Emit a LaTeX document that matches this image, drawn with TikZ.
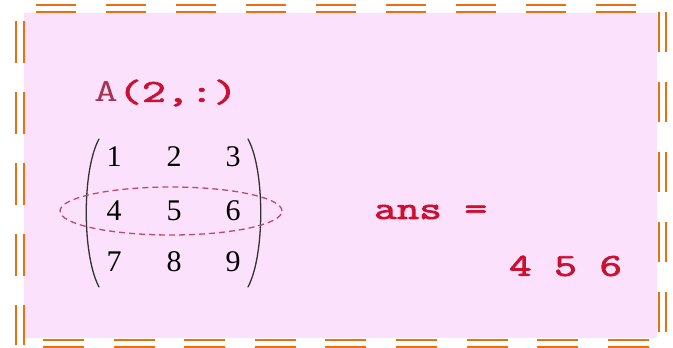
\documentclass[tikz,border=0pt]{standalone}
\usepackage{fontspec}
\usepackage{graphicx}
\usetikzlibrary{shapes.geometric}
\setmainfont{Liberation Serif}
\newfontfamily\monobold[FakeBold=2.2]{Latin Modern Mono}
\newfontfamily\monoreg{Latin Modern Mono}
\definecolor{bgpink}{HTML}{FCE1FC}
\definecolor{brd}{HTML}{E8700F}
\definecolor{codered}{HTML}{CC1030}
\definecolor{avar}{HTML}{A83050}
\definecolor{ellc}{HTML}{BE4A68}
\newcommand{\codetxt}[2][1.37]{\scalebox{#1}[1]{#2}}
\tikzset{
  hline/.style={draw=brd, line width=2pt, dash pattern=on 40pt off 30pt},
  vline/.style={draw=brd, line width=2pt, dash pattern=on 42pt off 29pt},
  num/.style={font=\fontsize{30}{30}\selectfont, text=black, inner sep=0pt},
  code/.style={font=\monobold\fontsize{32}{32}\selectfont, text=codered, inner sep=0pt},
  paren/.style={draw=black!80, line width=1.3pt, line cap=round}
}
\begin{document}
\begin{tikzpicture}[x=1pt,y=-1pt]
\useasboundingbox (0,0) rectangle (673,348);
\fill[white] (0,0) rectangle (673,348);
\fill[bgpink] (24,13) rectangle (657,338);
% border
\draw[hline] (36,4.5) -- (640,4.5);
\draw[hline] (36,11.5) -- (640,11.5);
\draw[hline, dash pattern=on 41pt off 29.6pt] (43,339.5) -- (652,339.5);
\draw[hline, dash pattern=on 41pt off 29.6pt] (43,346.5) -- (652,346.5);
\draw[vline] (16,21) -- (16,345);
\draw[vline] (23.5,21) -- (23.5,345);
\draw[vline, dash pattern=on 40pt off 30pt] (658.5,12) -- (658.5,335);
\draw[vline, dash pattern=on 40pt off 30pt] (665.5,12) -- (665.5,335);
% code
\node[code, anchor=west] (cmd) at (94,93) {\codetxt[1.45]{{\monoreg\color{avar}A}(2,:)}};
\node[code, anchor=west] (ans) at (374,212) {\codetxt{ans =}};
\node[code, anchor=west] (res) at (509,266) {\codetxt{4 5 6}};
% matrix
\foreach \r/\y/\a/\b/\c in {1/157/1/2/3, 2/211/4/5/6, 3/262/7/8/9}{
  \node[num] (m\r1) at (114,\y) {\a};
  \node[num] (m\r2) at (174,\y) {\b};
  \node[num] (m\r3) at (233,\y) {\c};
}
\draw[paren] (99,139) .. controls (82,170) and (82,255) .. (99,287);
\draw[paren] (248,139) .. controls (265,170) and (265,255) .. (248,287);
\node[draw=ellc, line width=1.3pt, dash pattern=on 6pt off 4pt, ellipse, minimum width=222pt, minimum height=48pt, inner sep=0pt] (sel) at (171,211) {};
\end{tikzpicture}
\end{document}
